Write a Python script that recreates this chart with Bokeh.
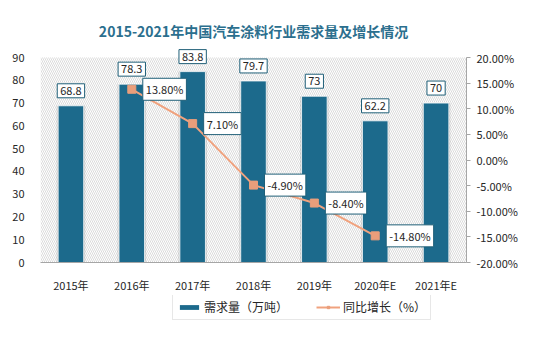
from bokeh.plotting import figure
from bokeh.layouts import column
from bokeh.models import (Range1d, LinearAxis, ColumnDataSource, Label, FactorRange,
                          FixedTicker, PrintfTickFormatter, Legend, LegendItem)
from bokeh.embed import file_html
from bokeh.resources import INLINE

years = ["2015年", "2016年", "2017年", "2018年", "2019年", "2020年E", "2021年E"]
demand = [68.8, 78.3, 83.8, 79.7, 73, 62.2, 70]
demand_labels = ["68.8", "78.3", "83.8", "79.7", "73", "62.2", "70"]
growth_years = ["2016年", "2017年", "2018年", "2019年", "2020年E"]
growth = [13.8, 7.1, -4.9, -8.4, -14.8]
growth_labels = ["13.80%", "7.10%", "-4.90%", "-8.40%", "-14.80%"]
left_ticks = [0, 10, 20, 30, 40, 50, 60, 70, 80, 90]
right_ticks = [-20, -15, -10, -5, 0, 5, 10, 15, 20]
legend_labels = ["需求量（万吨）", "同比增长（%）"]

FONT = "Noto Sans CJK SC"
BAR = "#1c6a8c"
LINE = "#f0a27e"
MARK = "#e99e7b"
TXT = "#262626"

# frame extends a little above the 90 / 20% level so the value boxes are not clipped
AXIS_PX = 205.0
FRAME_PX = 217.0
extra = FRAME_PX / AXIS_PX
l_lo, l_hi = left_ticks[0], left_ticks[-1]
r_lo, r_hi = right_ticks[0], right_ticks[-1]


def fx(cat):
    # synthetic coordinate of a factor's centre on the categorical axis
    return years.index(cat) + 0.5


bar_src = ColumnDataSource(dict(x=years, top=demand, lbl=demand_labels))
g_src = ColumnDataSource(dict(x=growth_years, y=growth, lbl=growth_labels))

p = figure(width=536, height=295, x_range=FactorRange(*years, range_padding=0),
           y_range=Range1d(l_lo, l_lo + (l_hi - l_lo) * extra),
           output_backend="svg", toolbar_location=None,
           min_border_left=40, min_border_right=70, min_border_top=45, min_border_bottom=28)
p.extra_y_ranges = {"g": Range1d(r_lo, r_lo + (r_hi - r_lo) * extra)}
p.outline_line_color = None
p.grid.visible = False
p.background_fill_color = "white"
p.border_fill_color = "white"

p.title.text = "2015-2021年中国汽车涂料行业需求量及增长情况"
p.title.align = "center"
p.title.text_font = FONT
p.title.text_font_size = "14px"
p.title.text_font_style = "bold"
p.title.text_color = "#2b6f8e"
p.title.offset = 9

# hatched plot-area background
p.quad(left=0, right=len(years), bottom=l_lo, top=l_hi, fill_color="white",
       line_color=None, hatch_pattern="\\", hatch_color="#d2d2d2", hatch_scale=4,
       hatch_weight=0.8)

p.vbar(x="x", top="top", width=0.47, source=bar_src, fill_color="#9a9a9a",
       fill_alpha=0.35, line_color=None)
bars = p.vbar(x="x", top="top", width=0.42, source=bar_src, fill_color=BAR,
              line_color="white", line_width=0.8)

line_r = p.line(x="x", y="y", source=g_src, y_range_name="g", line_color=LINE, line_width=2)
mark_r = p.scatter(x="x", y="y", source=g_src, y_range_name="g", marker="square", size=8,
                   fill_color=MARK, line_color=MARK)

for xv, yv, t in zip(years, demand, demand_labels):
    p.add_layout(Label(x=fx(xv), y=yv, text=t, y_offset=15, text_align="center",
                       text_baseline="middle", text_font=FONT, text_font_size="11px",
                       text_color=TXT, background_fill_color="white",
                       border_line_color="#1f5f78", border_line_width=1, padding=3))
for xv, yv, t in zip(growth_years, growth, growth_labels):
    p.add_layout(Label(x=fx(xv), y=yv, y_range_name="g", text=t, x_offset=11,
                       text_align="left", text_baseline="middle", text_font=FONT,
                       text_font_size="11px", text_color=TXT, background_fill_color="white",
                       border_line_color="#1f5f78", border_line_width=1, padding=3))

# axes
p.xaxis.axis_line_color = "#a6a6a6"
p.xaxis.major_tick_line_color = None
p.xaxis.minor_tick_line_color = None
p.xaxis.major_label_standoff = 8
p.xaxis.major_label_text_font = FONT
p.xaxis.major_label_text_font_size = "11px"
p.xaxis.major_label_text_color = TXT

p.yaxis.ticker = FixedTicker(ticks=left_ticks)
p.yaxis.axis_line_color = None
p.yaxis.major_tick_line_color = None
p.yaxis.minor_tick_line_color = None
p.yaxis.major_label_standoff = 10
p.yaxis.major_label_text_font = FONT
p.yaxis.major_label_text_font_size = "11px"
p.yaxis.major_label_text_color = TXT

ra = LinearAxis(y_range_name="g", ticker=FixedTicker(ticks=right_ticks),
                formatter=PrintfTickFormatter(format="%.2f%%"), bounds=(r_lo, r_hi))
ra.axis_line_color = "#a6a6a6"
ra.major_tick_line_color = "#a6a6a6"
ra.major_tick_in = 0
ra.major_tick_out = 4
ra.minor_tick_line_color = None
ra.major_label_standoff = 6
ra.major_label_text_font = FONT
ra.major_label_text_font_size = "11px"
ra.major_label_text_color = TXT
p.add_layout(ra, "right")

# legend strip below the chart (key renderers sit outside the visible range)
q = figure(width=536, height=42, output_backend="svg", toolbar_location=None,
           x_range=Range1d(0, 1), y_range=Range1d(0, 1),
           min_border_left=0, min_border_right=0, min_border_top=0, min_border_bottom=0)
q.axis.visible = False
q.grid.visible = False
q.outline_line_color = None
q.background_fill_color = "white"
q.border_fill_color = "white"
key_src = ColumnDataSource(dict(x=[-5], y=[-5], top=[-4]))
kb = q.vbar(x="x", top="top", bottom="y", width=0.1, source=key_src, fill_color=BAR,
            line_color=None)
kl = q.line(x="x", y="y", source=key_src, line_color=LINE, line_width=2)
km = q.scatter(x="x", y="y", source=key_src, marker="square", size=7,
               fill_color=MARK, line_color=MARK)
legend = Legend(items=[LegendItem(label=legend_labels[0], renderers=[kb]),
                       LegendItem(label=legend_labels[1], renderers=[kl, km])],
                orientation="horizontal", location=(132, 17))
legend.label_text_font = FONT
legend.label_text_font_size = "12px"
legend.label_text_color = TXT
legend.glyph_width = 24
legend.glyph_height = 6
legend.label_height = 14
legend.label_standoff = 3
legend.spacing = 28
legend.padding = 4
legend.margin = 0
legend.border_line_color = "#d0d0d0"
legend.border_line_width = 1
legend.background_fill_color = "white"
q.add_layout(legend, "center")

layout = column(p, q, spacing=0)
open("out.html", "w").write(file_html(layout, INLINE))
